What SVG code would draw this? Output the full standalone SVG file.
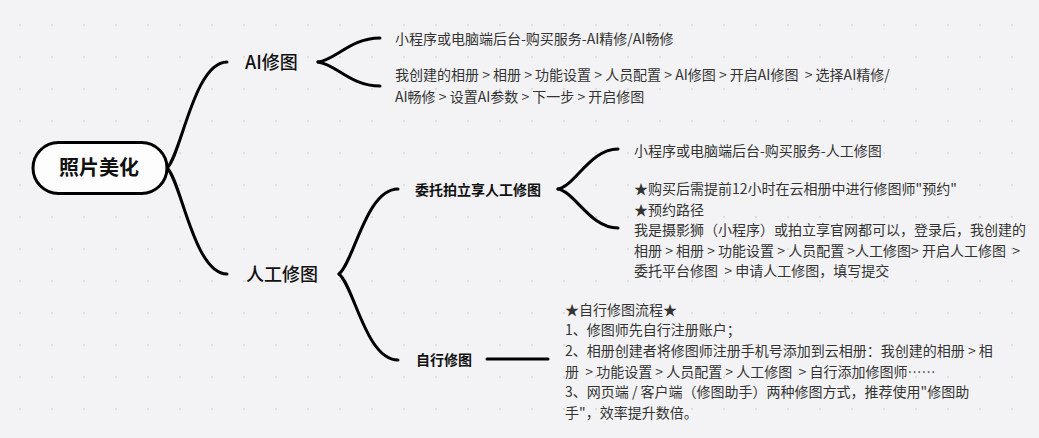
<svg xmlns="http://www.w3.org/2000/svg" width="1039" height="438" viewBox="0 0 1039 438">
<style>
.bg{fill:#f3f3f5}
.conn path{fill:none;stroke:#000;stroke-width:3;stroke-linecap:round}
text{font-family:"Noto Sans CJK SC","Noto Sans",sans-serif;fill:#333;white-space:pre}
.t14{font-size:14px}
.b14{font-size:14px;font-weight:bold;fill:#111}
.l18{font-size:18px;font-weight:500;fill:#111}
.root{font-size:20px;font-weight:bold;fill:#111}
.pill{fill:#fdfdfe;stroke:#000;stroke-width:3}
</style>
<defs>
<pattern id="dots" x="0" y="0" width="32" height="32" patternUnits="userSpaceOnUse">
<rect x="19.25" y="24.25" width="1.5" height="1.5" fill="#cacaca"/>
</pattern>
</defs>
<rect class="bg" width="1039" height="438"/>
<rect width="1039" height="438" fill="url(#dots)"/>
<g id="connectors" class="conn">
<path d="M167,168 C181,156 194,62 227,62"/>
<path d="M167,168 C181,180 194,274 227,274"/>
<path d="M318,62 C336,60 350,38 380,38"/>
<path d="M318,62 C336,64 350,86 380,86"/>
<path d="M339,274 C354,262 366,189 398,189"/>
<path d="M339,274 C354,286 366,360 398,360"/>
<path d="M558,189 C575,186 590,149 618,149"/>
<path d="M558,189 C575,192 590,228 618,228"/>
<path d="M487,359 L548,359"/>
</g>
<g id="node-root">
<rect class="pill" x="33" y="142.5" width="134" height="51" rx="25.5"/>
<text class="root" x="99" y="175" text-anchor="middle">照片美化</text>
</g>
<g id="node-ai">
<text class="l18" x="245" y="68.5">AI修图</text>
</g>
<g id="node-ai-1">
<text class="t14" x="395" y="44">小程序或电脑端后台-购买服务-AI精修/AI畅修</text>
</g>
<g id="node-ai-2">
<text class="t14" x="395" y="80">我创建的相册 &gt; 相册 &gt; 功能设置 &gt; 人员配置 &gt; AI修图 &gt; 开启AI修图  &gt; 选择AI精修/</text>
<text class="t14" x="395" y="102">AI畅修 &gt; 设置AI参数 &gt; 下一步 &gt; 开启修图</text>
</g>
<g id="node-manual">
<text class="l18" x="246" y="280.5">人工修图</text>
</g>
<g id="node-entrust">
<text class="b14" x="415" y="194.5">委托拍立享人工修图</text>
</g>
<g id="node-entrust-1">
<text class="t14" x="634" y="156">小程序或电脑端后台-购买服务-人工修图</text>
</g>
<g id="node-entrust-2">
<text class="t14" x="634" y="194">★购买后需提前12小时在云相册中进行修图师"预约"</text>
<text class="t14" x="634" y="214.5">★预约路径</text>
<text class="t14" x="634" y="235">我是摄影狮（小程序）或拍立享官网都可以，登录后，我创建的</text>
<text class="t14" x="634" y="255.5">相册 &gt; 相册 &gt; 功能设置 &gt; 人员配置 &gt;人工修图&gt; 开启人工修图  &gt;</text>
<text class="t14" x="634" y="276">委托平台修图  &gt; 申请人工修图，填写提交</text>
</g>
<g id="node-self">
<text class="b14" x="416" y="365">自行修图</text>
</g>
<g id="node-self-1">
<text class="t14" x="565" y="314.5">★自行修图流程★</text>
<text class="t14" x="565" y="335">1、修图师先自行注册账户；</text>
<text class="t14" x="565" y="356">2、相册创建者将修图师注册手机号添加到云相册：我创建的相册 &gt; 相</text>
<text class="t14" x="565" y="376.5">册  &gt; 功能设置 &gt; 人员配置 &gt; 人工修图  &gt; 自行添加修图师……</text>
<text class="t14" x="565" y="397">3、网页端 / 客户端（修图助手）两种修图方式，推荐使用"修图助</text>
<text class="t14" x="565" y="418">手"，效率提升数倍。</text>
</g>
</svg>
